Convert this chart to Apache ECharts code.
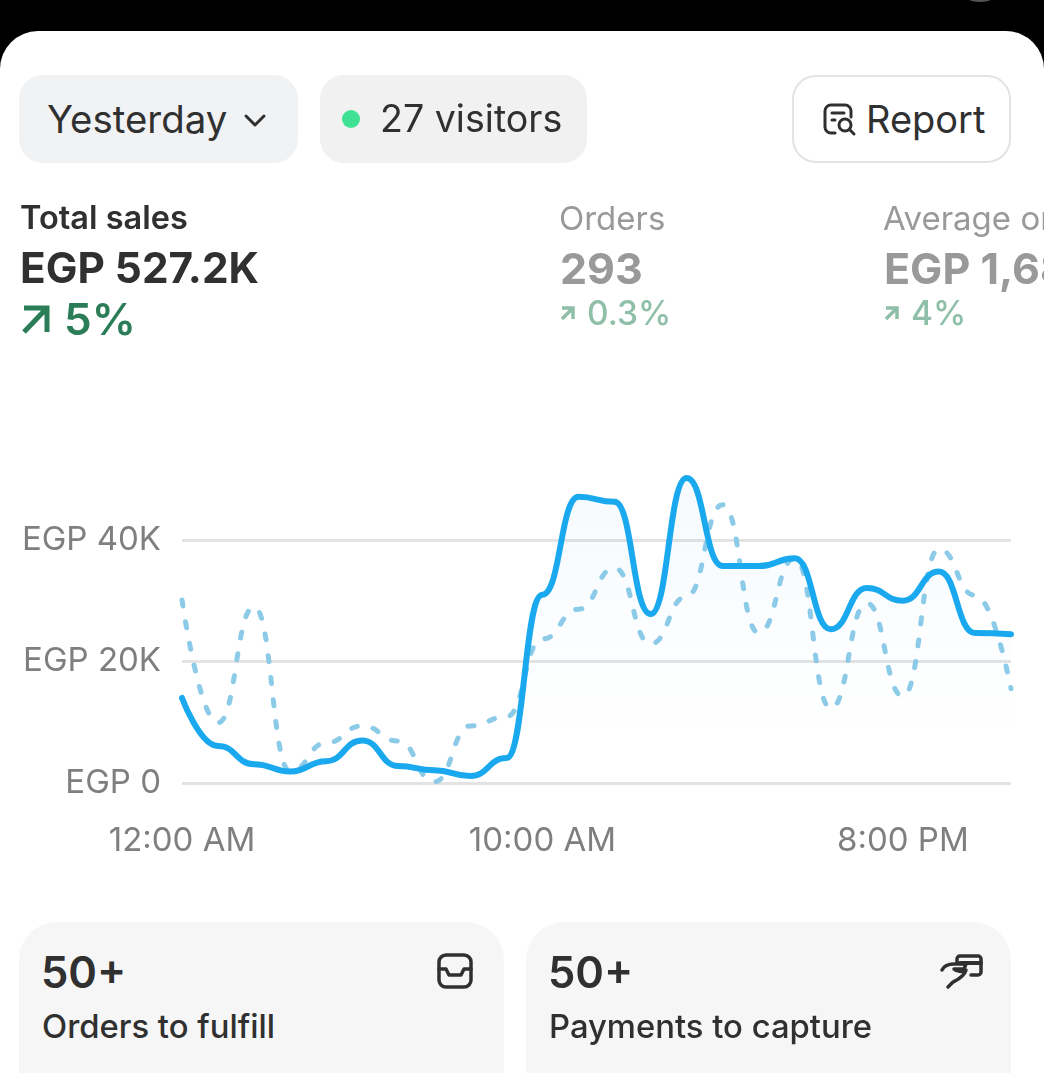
<!DOCTYPE html>
<html>
<head>
<meta charset="utf-8">
<title>Total sales</title>
<script src="https://cdn.jsdelivr.net/npm/echarts@6/dist/echarts.min.js"></script>
<style>
    html, body { margin: 0; padding: 0; background: #000; }
    body { width: 1044px; height: 1073px; overflow: hidden; position: relative; font-family: Inter, sans-serif; }
    #sheet { position: absolute; left: 0; top: 31px; width: 1044px; height: 1042px; background: #fff; border-radius: 38px 38px 0 0; }
    #es_chart { position: absolute; left: 0; top: 0; width: 1044px; height: 1073px; }
    .box { position: absolute; box-sizing: border-box; }
    .txt { position: absolute; white-space: nowrap; line-height: 1; }
    svg { position: absolute; overflow: visible; }
</style>
</head>
<body>
<div class="box" style="left:964px;top:-12px;width:32px;height:14px;border-radius:50%;background:#555"></div>
<div id="sheet"></div>
<div id="es_chart"></div>

<!-- top buttons -->
<div class="box" style="left:19px;top:75px;width:279px;height:88px;background:#f1f2f4;border-radius:24px"></div>
<div class="txt" style="left:47px;top:100px;font-size:38.4px;color:#303030">Yesterday</div>
<svg style="left:244px;top:114px" width="22" height="14" fill="none" stroke="#303030" stroke-width="3" stroke-linecap="round" stroke-linejoin="round"><path d="M2 2l9 9 9-9"/></svg>

<div class="box" style="left:320px;top:75px;width:267px;height:88px;background:#f1f1f1;border-radius:24px"></div>
<div class="box" style="left:342px;top:110px;width:18px;height:18px;border-radius:50%;background:#3fe295"></div>
<div class="txt" style="left:380px;top:100px;font-size:37.6px;color:#303030">27 visitors</div>

<div class="box" style="left:792px;top:75px;width:219px;height:88px;background:#fff;border:2.5px solid #e3e3e3;border-radius:24px"></div>
<svg style="left:823px;top:103px" width="34" height="34" fill="none" stroke="#303030" stroke-width="3" stroke-linecap="round" stroke-linejoin="round">
    <path d="M12 30H8a6 6 0 0 1-6-6V8a6 6 0 0 1 6-6h14a6 6 0 0 1 6 6v6"/>
    <path d="M9 10h12M9 17h3"/>
    <circle cx="22" cy="22" r="6"/>
    <path d="M26.500 26.500L31 31"/>
</svg>
<div class="txt" style="left:866px;top:100px;font-size:38px;color:#303030">Report</div>

<!-- metrics -->
<div class="txt" style="left:20px;top:202px;font-size:32.500px;font-weight:600;color:#303030">Total sales</div>
<div class="txt" style="left:20px;top:247px;font-size:42.300px;font-weight:700;color:#303030">EGP 527.2K</div>
<svg style="left:21px;top:305px" width="30" height="30" fill="none" stroke="#2a7d57" stroke-width="5"><path d="M3 3h23v24M26 3L3 27"/></svg>
<div class="txt" style="left:64px;top:297px;font-size:44px;font-weight:600;color:#2a7d57">5%</div>

<div class="txt" style="left:559px;top:202px;font-size:33px;color:#999">Orders</div>
<div class="txt" style="left:560px;top:247px;font-size:43px;font-weight:700;color:#999">293</div>
<svg style="left:561px;top:306px" width="14" height="14" fill="none" stroke="#8fbfa8" stroke-width="3.500"><path d="M1 2h11v11M12 2L1 13"/></svg>
<div class="txt" style="left:587px;top:297px;font-size:33.500px;font-weight:500;color:#8fbfa8">0.3%</div>

<div class="txt" style="left:883px;top:202px;font-size:33px;color:#999">Average order value</div>
<div class="txt" style="left:884px;top:247px;font-size:43px;font-weight:700;color:#999">EGP 1,68</div>
<svg style="left:885px;top:306px" width="14" height="14" fill="none" stroke="#8fbfa8" stroke-width="3.500"><path d="M1 2h11v11M12 2L1 13"/></svg>
<div class="txt" style="left:911px;top:297px;font-size:33.500px;font-weight:500;color:#8fbfa8">4%</div>

<!-- bottom cards -->
<div class="box" style="left:19px;top:922px;width:485px;height:190px;background:#f6f6f6;border-radius:38px"></div>
<div class="txt" style="left:41px;top:951px;font-size:43.500px;font-weight:600;color:#303030">50+</div>
<div class="txt" style="left:42px;top:1010px;font-size:32.800px;font-weight:500;color:#303030">Orders to fulfill</div>
<svg style="left:437px;top:953px" width="36" height="36" fill="none" stroke="#303030" stroke-width="3.500" stroke-linecap="round" stroke-linejoin="round">
    <rect x="2" y="2" width="32" height="32" rx="7"/>
    <path d="M2 16h7l3 6h12l3-6h7"/>
</svg>
<div class="box" style="left:526px;top:922px;width:485px;height:190px;background:#f6f6f6;border-radius:38px"></div>
<div class="txt" style="left:548px;top:951px;font-size:43.500px;font-weight:600;color:#303030">50+</div>
<div class="txt" style="left:549px;top:1010px;font-size:32.800px;font-weight:500;color:#303030">Payments to capture</div>
<svg style="left:940px;top:954px" width="44" height="36" fill="none" stroke="#303030" stroke-width="3.500" stroke-linecap="round" stroke-linejoin="round">
    <path d="M17 8V5a3 3 0 0 1 3-3h18a3 3 0 0 1 3 3v13a3 3 0 0 1-3 3H31"/>
    <path d="M20 9h21" stroke-width="4"/>
    <path d="M2 16c2-4 6-6 12-6h12l-2 5H14c3 3 8 3 12 1-2 7-9 10-13 12l-5 5"/>
</svg>

<script>
    // one point per hour, values in EGP
    let hours = ['12:00 AM', '1:00 AM', '2:00 AM', '3:00 AM', '4:00 AM', '5:00 AM', '6:00 AM', '7:00 AM',
        '8:00 AM', '9:00 AM', '10:00 AM', '11:00 AM', '12:00 PM', '1:00 PM', '2:00 PM', '3:00 PM',
        '4:00 PM', '5:00 PM', '6:00 PM', '7:00 PM', '8:00 PM', '9:00 PM', '10:00 PM', '11:00 PM'];

    let yesterdaySales = [14000, 6100, 3100, 1900, 3600, 7000, 2800, 2100, 1150, 4100, 31000, 47100,
        46300, 27800, 50200, 35700, 35700, 37000, 25300, 32100, 30000, 34800, 24700, 24500];

    let previousSales = [30100, 9900, 29000, 1900, 6600, 9400, 6900, 200, 9400, 10900, 23700, 28600,
        35400, 22900, 30700, 45800, 24700, 37000, 12300, 29600, 14300, 38500, 30900, 15500];

    let chart = echarts.init(document.getElementById('es_chart'), null, {renderer: 'canvas'});

    chart.setOption({
        backgroundColor: 'transparent',
        animation: false,
        grid: {left: 182, right: 33, top: 418.5, bottom: 290},
        xAxis: {
            type: 'category',
            data: hours,
            boundaryGap: false,
            axisLine: {show: false},
            axisTick: {show: false},
            axisLabel: {
                interval: 9,
                margin: 42,
                fontFamily: 'Inter',
                fontSize: 33,
                color: '#7f7f7f'
            },
            splitLine: {show: false}
        },
        yAxis: {
            type: 'value',
            min: 0,
            max: 60000,
            interval: 20000,
            axisLine: {show: false},
            axisTick: {show: false},
            axisLabel: {
                showMaxLabel: false,
                margin: 21,
                fontFamily: 'Inter',
                fontSize: 33,
                color: '#7f7f7f',
                padding: [2, 0, 0, 0],
                formatter: function (value) {
                    return value === 0 ? 'EGP 0' : 'EGP ' + value / 1000 + 'K';
                }
            },
            splitLine: {
                showMaxLine: false,
                lineStyle: {color: '#e3e3e3', width: 3}
            }
        },
        series: [{
            name: 'Previous',
            type: 'line',
            data: previousSales,
            smooth: 0.5,
            smoothMonotone: 'x',
            symbol: 'none',
            lineStyle: {color: '#8ccbe8', width: 5, type: [6, 16], cap: 'round'}
        }, {
            name: 'Yesterday',
            type: 'line',
            data: yesterdaySales,
            smooth: 0.5,
            smoothMonotone: 'x',
            symbol: 'none',
            lineStyle: {color: '#1aa9ee', width: 6, cap: 'round'},
            areaStyle: {
                color: {
                    type: 'linear', x: 0, y: 0, x2: 0, y2: 1,
                    colorStops: [
                        {offset: 0, color: 'rgba(26,140,220,0.06)'},
                        {offset: 0.85, color: 'rgba(26,140,220,0)'}
                    ]
                }
            }
        }]
    });
</script>
</body>
</html>
